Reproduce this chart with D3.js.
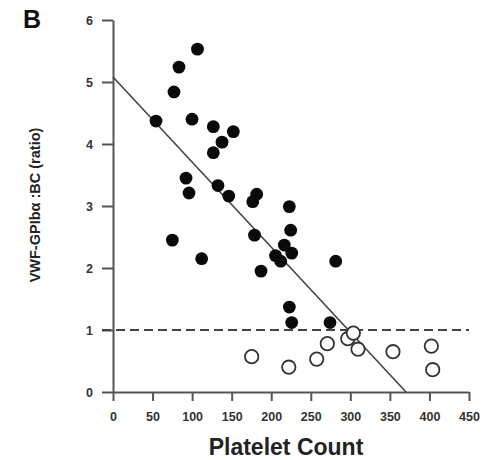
<!DOCTYPE html>
<html><head><meta charset="utf-8">
<script src="https://cdn.jsdelivr.net/npm/d3@7"></script>
<style>body{margin:0;background:#fff;} svg{display:block;font-family:"Liberation Sans",Arial,sans-serif;}</style>
</head><body>
<script>
// Data: platelet count vs VWF-GPIbα:BC ratio
const filledX = [54.4, 77.1, 83.4, 106.8, 99.9, 126.8, 152.1, 137.8, 126.8, 92.3, 96.1, 132.7, 146.3, 75.0, 112.1, 181.6, 176.6, 222.9, 224.6, 178.9, 216.5, 225.9, 205.4, 212.0, 187.1, 281.5, 222.9, 225.9, 274.3];
const filledY = [4.37, 4.84, 5.24, 5.53, 4.40, 4.28, 4.20, 4.03, 3.86, 3.45, 3.21, 3.33, 3.16, 2.45, 2.15, 3.19, 3.07, 2.99, 2.61, 2.53, 2.37, 2.24, 2.20, 2.11, 1.95, 2.11, 1.37, 1.12, 1.12];
const openX = [175.3, 222.2, 257.5, 270.9, 296.8, 303.8, 309.7, 353.9, 402.4, 404.1];
const openY = [0.57, 0.40, 0.53, 0.78, 0.86, 0.95, 0.69, 0.65, 0.74, 0.36];
const xTicks = [0, 50, 100, 150, 200, 250, 300, 350, 400, 450];
const yTicks = [0, 1, 2, 3, 4, 5, 6];
const fitLine = [[0, 5.08], [370.4, 0]];
const threshold = 1;
const xLabel = "Platelet Count";
const yLabel = "VWF-GPIbα :BC (ratio)";
const panelLabel = "B";

const W = 483, H = 460;
const svg = d3.select("body").append("svg").attr("width", W).attr("height", H);
const x = d3.scaleLinear().domain([0, 450]).range([113, 469]);
const y = d3.scaleLinear().domain([0, 6]).range([392, 20]);
const axisColor = "#555";

// axes
const gx = svg.append("g").attr("transform", `translate(0,${y(0)})`)
  .call(d3.axisBottom(x).tickValues(xTicks).tickFormat(d3.format("d")).tickSize(9).tickSizeOuter(0).tickPadding(11));
const gy = svg.append("g").attr("transform", `translate(${x(0)},0)`)
  .call(d3.axisLeft(y).tickValues(yTicks).tickFormat(d3.format("d")).tickSize(11).tickSizeOuter(0).tickPadding(9));
[gx, gy].forEach(g => {
  g.select(".domain").attr("stroke", axisColor).attr("stroke-width", 2);
  g.selectAll(".tick line").attr("stroke", axisColor).attr("stroke-width", 2);
  g.selectAll(".tick text").attr("fill", "#333").attr("font-size", 12.5).attr("font-weight", "bold")
    .attr("font-family", '"Liberation Sans",Arial,sans-serif');
});

// dashed threshold
svg.append("line").attr("x1", x(0) - 11).attr("x2", x(450)).attr("y1", y(threshold)).attr("y2", y(threshold))
  .attr("stroke", "#444").attr("stroke-width", 2).attr("stroke-dasharray", "9,5");

// regression line
svg.append("line").attr("x1", x(fitLine[0][0])).attr("y1", y(fitLine[0][1]))
  .attr("x2", x(fitLine[1][0])).attr("y2", y(fitLine[1][1]))
  .attr("stroke", "#444").attr("stroke-width", 1.6);

// filled points
svg.append("g").selectAll("circle").data(d3.range(filledX.length)).join("circle")
  .attr("cx", i => x(filledX[i])).attr("cy", i => y(filledY[i])).attr("r", 6.4).attr("fill", "#0a0a0a");

// open points
svg.append("g").selectAll("circle").data(d3.range(openX.length)).join("circle")
  .attr("cx", i => x(openX[i])).attr("cy", i => y(openY[i])).attr("r", 6.7)
  .attr("fill", "#fff").attr("stroke", "#333").attr("stroke-width", 1.8);

// labels
svg.append("text").attr("x", 286).attr("y", 455).attr("text-anchor", "middle")
  .attr("font-size", 23).attr("font-weight", "bold").attr("fill", "#222").text(xLabel);
svg.append("text").attr("transform", "translate(40,205) rotate(-90)").attr("text-anchor", "middle")
  .attr("font-size", 14.5).attr("font-weight", "bold").attr("fill", "#222").text(yLabel);
svg.append("text").attr("x", 23).attr("y", 28).attr("font-size", 25).attr("font-weight", "bold")
  .attr("fill", "#111").text(panelLabel);
</script>
</body></html>
